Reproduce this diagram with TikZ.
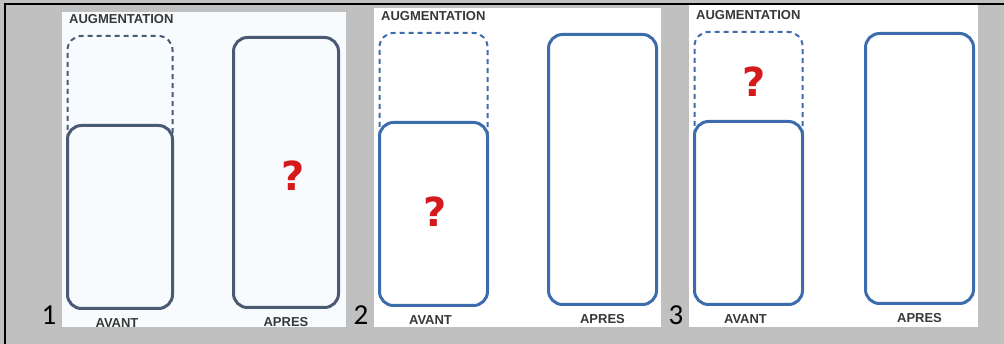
\documentclass[tikz,border=0pt]{standalone}
\usepackage{fontspec}
\setmainfont{Liberation Sans}
\newfontfamily\digitfont{Carlito}
\newfontfamily\qfont{DejaVu Sans}
\usetikzlibrary{positioning}

\definecolor{framegray}{HTML}{C0C0C0}
\definecolor{slateline}{HTML}{4A5A72}
\definecolor{blueline}{HTML}{3D6CAD}
\definecolor{qred}{HTML}{D41A1A}
\definecolor{paleblue}{HTML}{F8FBFD}
\definecolor{labelgray}{HTML}{383838}

\tikzset{
  bar/.style={draw, line width=3pt, rounded corners=14pt, anchor=north west, inner sep=0pt, outer sep=0pt},
  augbox/.style={line width=2pt, dash pattern=on 5pt off 4pt, rounded corners=14pt},
  caption/.style={font=\bfseries\fontsize{13}{13}\selectfont, text=labelgray, inner sep=0pt},
  qmark/.style={font=\qfont\bfseries\fontsize{40}{40}\selectfont, text=qred, inner sep=0pt},
  panelnum/.style={font=\digitfont\fontsize{29}{29}\selectfont, inner sep=0pt, anchor=base},
}

\begin{document}
\begin{tikzpicture}[x=1pt, y=-1pt]
  % Gray frame
  \fill[framegray] (0,0) rectangle (1004,344);
  \useasboundingbox (0,0) rectangle (1004,344);
  \draw[line width=2.5pt] (5,344) -- (5,4) -- (1004,4);

  % Three panels: number, offset, top, width, shift, bar width, line colour, background, question mark
  \foreach \n/\ox/\top/\w/\dy/\bw/\col/\bg/\qx/\qy in
    {1/62/12/284/3/105/slateline/paleblue/293/176,
     2/374/8/287/0/108/blueline/white/435/212,
     3/689/5/289/-1/108/blueline/white/754/82} {
    \fill[\bg] (\ox,\top) rectangle (\ox+\w,327);
    \node[panelnum] (num\n) at (\ox-13,325) {\n};

    % Increase on top of the first bar
    \node[caption, anchor=west] (aug\n) at (\ox+7,16+\dy) {AUGMENTATION};
    \draw[augbox, \col] (\ox+5.5,136+\dy) -- (\ox+5.5,33+\dy)
      -- (\ox+5.5+\bw,33+\dy) -- (\ox+5.5+\bw,136+\dy);

    % Bars before and after
    \node[bar, draw=\col, fill=\bg, minimum width=\bw pt, minimum height=183pt] (avant\n) at (\ox+5.5,122.5+\dy) {};
    \node[bar, draw=\col, minimum width=\bw pt, minimum height=270pt] (apres\n) at (\ox+\w-112.5,34.5+\dy) {};
    \node[caption, below=10pt of avant\n, xshift=-3pt] (avantlbl\n) {AVANT};
    \node[caption, below=10pt of apres\n] (apreslbl\n) {APRES};

    % Unknown value
    \node[qmark] (q\n) at (\qx,\qy) {?};
  }
\end{tikzpicture}
\end{document}
